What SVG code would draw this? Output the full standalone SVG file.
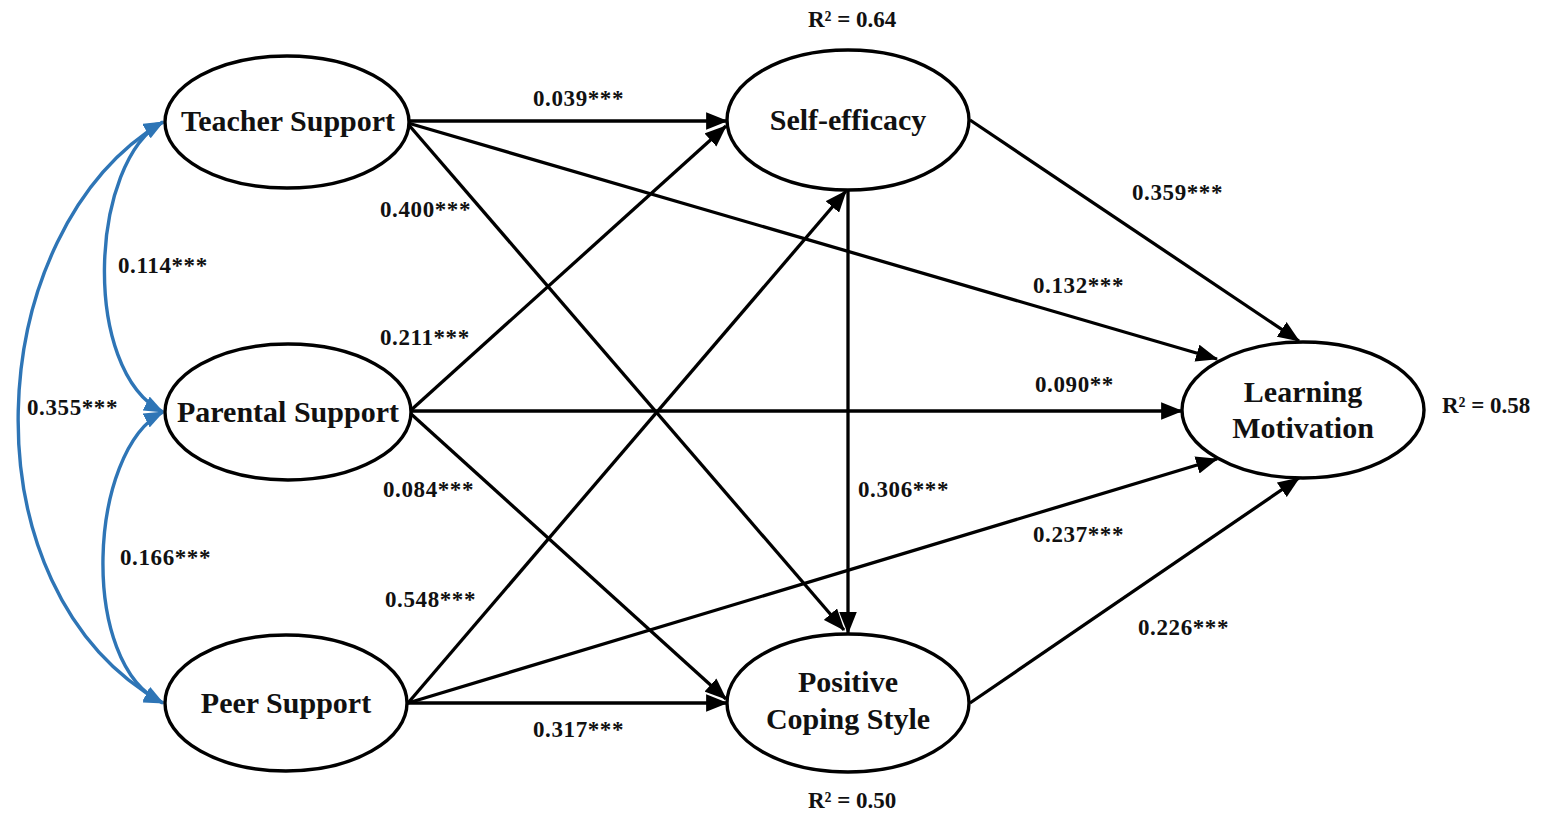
<svg xmlns="http://www.w3.org/2000/svg" width="1547" height="817" viewBox="0 0 1547 817">
<style>
.node ellipse{fill:#fff;stroke:#000;stroke-width:3.4}
.node text{font-family:"Liberation Serif","Times New Roman",serif;font-weight:bold;font-size:30px;fill:#111;text-anchor:middle}
.lbl{font-family:"Liberation Serif","Times New Roman",serif;font-weight:bold;font-size:23px;fill:#111;letter-spacing:0.6px}
.r2{font-family:"Liberation Serif","Times New Roman",serif;font-weight:bold;font-size:23px;fill:#111}
.edge{fill:none;stroke:#000;stroke-width:3.3;marker-end:url(#ah)}
.cov{fill:none;stroke:#2E75B6;stroke-width:3.4;marker-start:url(#bh);marker-end:url(#bh)}
</style>
<defs>
<marker id="ah" viewBox="0 0 20 16" refX="19" refY="8" markerWidth="22" markerHeight="18" markerUnits="userSpaceOnUse" orient="auto">
<path d="M0,0 L20,8 L0,16 z" fill="#000"/>
</marker>
<marker id="bh" viewBox="0 0 18 14" refX="17" refY="7" markerWidth="20" markerHeight="16" markerUnits="userSpaceOnUse" orient="auto-start-reverse">
<path d="M0,0 L18,7 L0,14 z" fill="#2E75B6"/>
</marker>
</defs>
<rect width="1547" height="817" fill="#fff"/>
<g id="connectors">
<path class="cov" d="M163,122 C90,160 80,370 163,412"/>
<path class="cov" d="M163,412 C88,450 78,665 163,703"/>
<path class="cov" d="M163,122 C-20,230 -40,590 163,703"/>
<path class="edge" d="M408,121 L727,121"/>
<path class="edge" d="M408,123 L1217,359"/>
<path class="edge" d="M408,124 L844,630"/>
<path class="edge" d="M410,411 L726,126"/>
<path class="edge" d="M410,411 L1182,411"/>
<path class="edge" d="M410,413 L726,699"/>
<path class="edge" d="M408,703 L846,191"/>
<path class="edge" d="M408,703 L1217,459"/>
<path class="edge" d="M408,703 L727,703"/>
<path class="edge" d="M970,120 L1299,341"/>
<path class="edge" d="M848,190 L848,633"/>
<path class="edge" d="M970,703 L1299,478"/>
</g>
<g id="teacher" class="node"><ellipse cx="287" cy="122" rx="122" ry="66"/><text x="288" y="131">Teacher Support</text></g>
<g id="parental" class="node"><ellipse cx="288" cy="412" rx="123" ry="68"/><text x="288" y="422">Parental Support</text></g>
<g id="peer" class="node"><ellipse cx="286" cy="703" rx="121" ry="68"/><text x="286" y="713">Peer Support</text></g>
<g id="selfefficacy" class="node"><ellipse cx="848" cy="120" rx="121" ry="70"/><text x="848" y="130">Self-efficacy</text></g>
<g id="coping" class="node"><ellipse cx="848" cy="703" rx="121" ry="69"/><text x="848" y="692">Positive</text><text x="848" y="729">Coping Style</text></g>
<g id="motivation" class="node"><ellipse cx="1303" cy="410" rx="121" ry="68"/><text x="1303" y="402">Learning</text><text x="1303" y="438">Motivation</text></g>
<g id="labels">
<text class="lbl" x="533" y="106">0.039***</text>
<text class="lbl" x="380" y="217">0.400***</text>
<text class="lbl" x="118" y="273">0.114***</text>
<text class="lbl" x="380" y="345">0.211***</text>
<text class="lbl" x="27" y="415">0.355***</text>
<text class="lbl" x="383" y="497">0.084***</text>
<text class="lbl" x="120" y="565">0.166***</text>
<text class="lbl" x="385" y="607">0.548***</text>
<text class="lbl" x="533" y="737">0.317***</text>
<text class="lbl" x="1132" y="200">0.359***</text>
<text class="lbl" x="1033" y="293">0.132***</text>
<text class="lbl" x="1035" y="392">0.090**</text>
<text class="lbl" x="858" y="497">0.306***</text>
<text class="lbl" x="1033" y="542">0.237***</text>
<text class="lbl" x="1138" y="635">0.226***</text>
<text class="r2" x="808" y="27">R² = 0.64</text>
<text class="r2" x="1442" y="413">R² = 0.58</text>
<text class="r2" x="808" y="808">R² = 0.50</text>
</g>
</svg>
